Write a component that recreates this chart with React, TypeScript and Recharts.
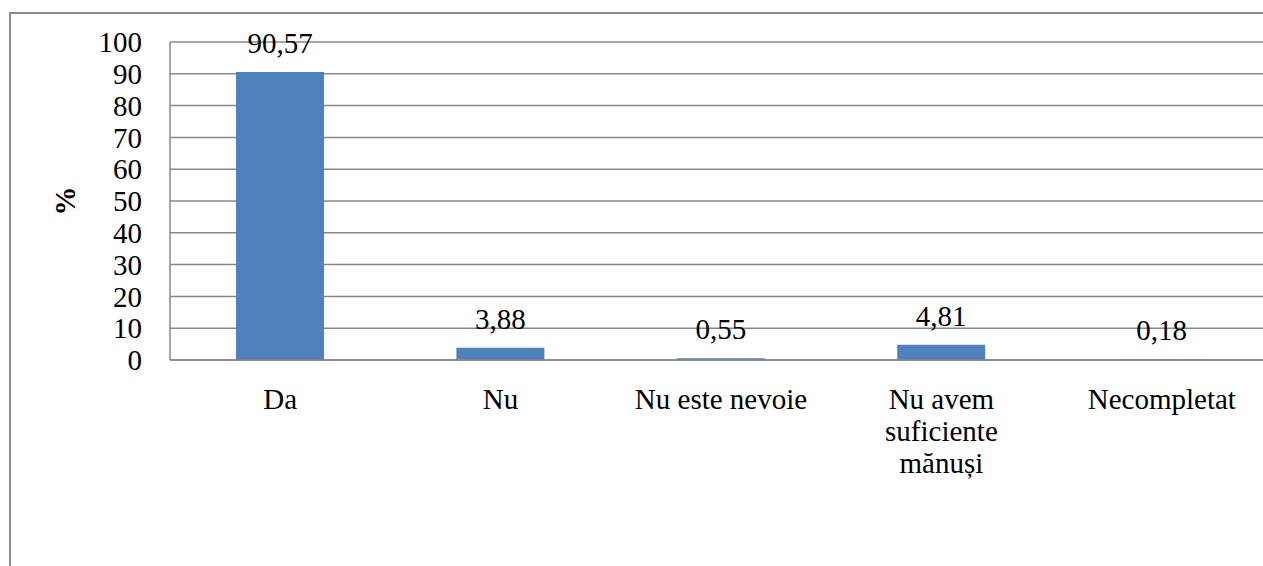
import { BarChart, Bar, XAxis, YAxis, CartesianGrid, LabelList } from "recharts";

const categories = ["Da", "Nu", "Nu este nevoie", "Nu avem\nsuficiente\nmănuși", "Necompletat"];
const percents = [90.57, 3.88, 0.55, 4.81, 0.18];
const yTicks = [0, 10, 20, 30, 40, 50, 60, 70, 80, 90, 100];

const data = categories.map((name, i) => ({ name, value: percents[i] }));

const FONT = "'Liberation Serif', 'DejaVu Serif', serif";
const GRID = "#878787";

function CategoryTick(props: any) {
  const { x, y, payload } = props;
  const lines = String(payload.value).split("\n");
  return (
    <text x={x} y={y} textAnchor="middle" style={{ fontFamily: FONT, fontSize: 29 }} fill="#000">
      {lines.map((line, i) => (
        <tspan key={i} x={x} dy={i === 0 ? 49 : 32}>
          {line}
        </tspan>
      ))}
    </text>
  );
}

export default function App() {
  return (
    <div
      style={{
        position: "fixed",
        top: 0,
        left: 0,
        width: 1263,
        height: 566,
        overflow: "hidden",
        background: "#fff",
        fontFamily: FONT,
      }}
    >
      {/* outer chart frame, cut off at right and bottom */}
      <div
        style={{
          position: "absolute",
          left: 9,
          top: 12,
          width: 1400,
          height: 700,
          border: "2px solid #8a8a8a",
        }}
      />
      <div style={{ position: "absolute", left: 0, top: 0 }}>
        <BarChart
          width={1290}
          height={566}
          data={data}
          margin={{ top: 42, right: 18, left: 0, bottom: 0 }}
          barCategoryGap={66}
          style={{ fontFamily: FONT }}
        >
          <CartesianGrid vertical={false} stroke={GRID} strokeWidth={1.5} />
          <XAxis
            dataKey="name"
            height={206}
            interval={0}
            tickLine={false}
            tickSize={0}
            tickMargin={0}
            stroke={GRID}
            strokeWidth={1.5}
            tick={<CategoryTick />}
          />
          <YAxis
            width={170}
            domain={[0, 100]}
            ticks={yTicks}
            interval={0}
            tickLine={false}
            tickSize={0}
            tickMargin={28}
            stroke={GRID}
            strokeWidth={1.5}
            tick={{ fontSize: 29, fill: "#000", style: { fontFamily: FONT } }}
            label={{
              value: "%",
              angle: -90,
              position: "insideLeft",
              dx: 60,
              style: { fontFamily: FONT, fontSize: 29, fontWeight: "bold", fill: "#000", textAnchor: "middle" },
            }}
          />
          <Bar dataKey="value" fill="#4F81BD" isAnimationActive={false}>
            <LabelList
              dataKey="value"
              position="top"
              offset={19}
              formatter={(v: any) => Number(v).toFixed(2).replace(".", ",")}
              style={{ fontFamily: FONT, fontSize: 29, fill: "#000" }}
            />
          </Bar>
        </BarChart>
      </div>
    </div>
  );
}
